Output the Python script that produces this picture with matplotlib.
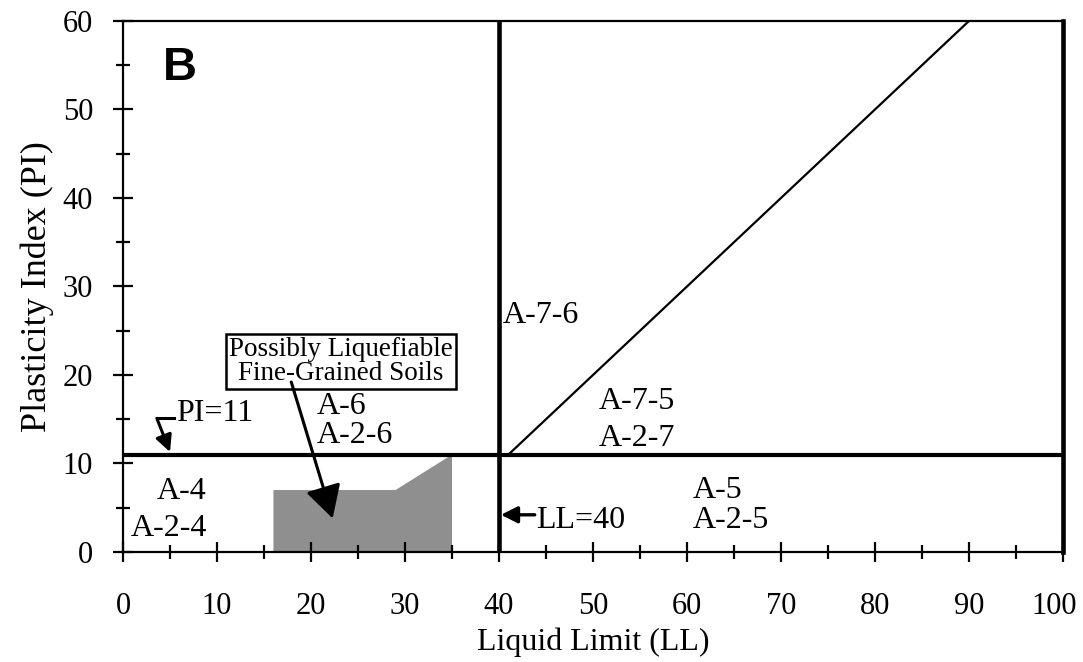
import numpy as np
import matplotlib
matplotlib.use("Agg")
import matplotlib.pyplot as plt
import matplotlib.transforms as mtransforms
from matplotlib.ticker import MultipleLocator

plt.rcParams['font.family'] = ['Liberation Serif', 'DejaVu Serif']

# AASHTO classification boundaries
ll_boundary = 40
pi_boundary = 11
aline_ll = [41, 90]   # PI = LL - 30
aline_pi = [11, 60]

# axis ticks
x_ticks = [0, 10, 20, 30, 40, 50, 60, 70, 80, 90, 100]
y_ticks = [0, 10, 20, 30, 40, 50, 60]

# possibly liquefiable fine-grained soils zone
liq_ll = [16, 16, 29, 35, 35]
liq_pi = [0, 7, 7, 11, 0]

# group labels, one entry per line of text
zone_text = ["A-4", "A-2-4", "A-6", "A-2-6", "A-7-6",
             "A-7-5", "A-2-7", "A-5", "A-2-5"]
zone_x = [8.9, 8.9, 20.6, 20.6, 40.4, 50.6, 50.6, 60.6, 60.6]
zone_y = [6.8, 2.6, 16.4, 13.2, 26.7, 17.0, 12.8, 7.0, 3.6]
zone_ha = ["right", "right", "left", "left", "left",
           "left", "left", "left", "left"]

fig = plt.figure(figsize=(10.83, 6.62), dpi=100)
ax = fig.add_axes([0.1136, 0.1662, 0.8679, 0.8021])

ax.fill(liq_ll, liq_pi, color='0.56', lw=0, zorder=1)
ax.axvline(ll_boundary, color='k', lw=3.3, zorder=3)
ax.axhline(pi_boundary, color='k', lw=3.0, zorder=3)
ax.plot(aline_ll, aline_pi, color='k', lw=1.6, zorder=3)

ax.set_xlim(0, 100)
ax.set_ylim(0, 60)
ax.set_xticks(x_ticks)
ax.set_yticks(y_ticks)
ax.xaxis.set_minor_locator(MultipleLocator(5))
ax.yaxis.set_minor_locator(MultipleLocator(5))
ax.tick_params(which='major', direction='inout', length=15, width=1.6,
               labelsize=22)
ax.tick_params(which='minor', direction='inout', length=10, width=1.6)
ax.tick_params(axis='x', pad=21)
ax.tick_params(axis='y', pad=14)
for side in ['left', 'bottom', 'top']:
    ax.spines[side].set_linewidth(1.6)
ax.spines['right'].set_linewidth(3.3)

ax.set_xlabel('Liquid Limit (LL)', fontsize=23, labelpad=5)
ax.set_ylabel('Plasticity Index (PI)', fontsize=26, labelpad=6)

# last x label sits a bit left of its tick in the original
last = ax.xaxis.get_major_ticks()[len(x_ticks) - 1].label1
last.set_transform(last.get_transform() +
                   mtransforms.ScaledTranslation(-9 / 100, 0, fig.dpi_scale_trans))

for txt, x, y, ha in zip(zone_text, zone_x, zone_y, zone_ha):
    ax.text(x, y, txt, fontsize=23, ha=ha, va='center')

ax.text(6.0, 54.7, 'B', fontsize=34, fontweight='bold',
        family='Liberation Sans', ha='center', va='center')

# liquefiable zone callout
ax.text(23.2, 21.5, 'Possibly Liquefiable\nFine-Grained Soils', fontsize=19.5,
        ha='center', va='center', linespacing=0.95,
        bbox=dict(boxstyle='square,pad=0.12', fc='white', ec='k', lw=1.8),
        zorder=4)
ax.annotate('', xy=(22.3, 3.8), xytext=(17.9, 19.2),
            arrowprops=dict(arrowstyle='-|>,head_length=0.4,head_width=0.22',
                            mutation_scale=50, color='k', lw=2.2,
                            shrinkA=0, shrinkB=0),
            zorder=4)

# PI=11 marker
ax.text(5.6, 15.6, 'PI=11', fontsize=23, ha='left', va='center')
ax.plot([5.4, 3.6], [15.1, 15.1], color='k', lw=2.2)
ax.annotate('', xy=(5.0, 11.3), xytext=(3.6, 15.1),
            arrowprops=dict(arrowstyle='-|>,head_length=0.5,head_width=0.25',
                            mutation_scale=20, color='k', lw=2.2,
                            shrinkA=0, shrinkB=0))

# LL=40 marker
ax.text(44.0, 3.6, 'LL=40', fontsize=23, ha='left', va='center')
ax.annotate('', xy=(40.2, 4.2), xytext=(43.8, 4.2),
            arrowprops=dict(arrowstyle='-|>,head_length=0.5,head_width=0.25',
                            mutation_scale=20, color='k', lw=2.4,
                            shrinkA=0, shrinkB=0))

fig.savefig('out.png', dpi=100)
